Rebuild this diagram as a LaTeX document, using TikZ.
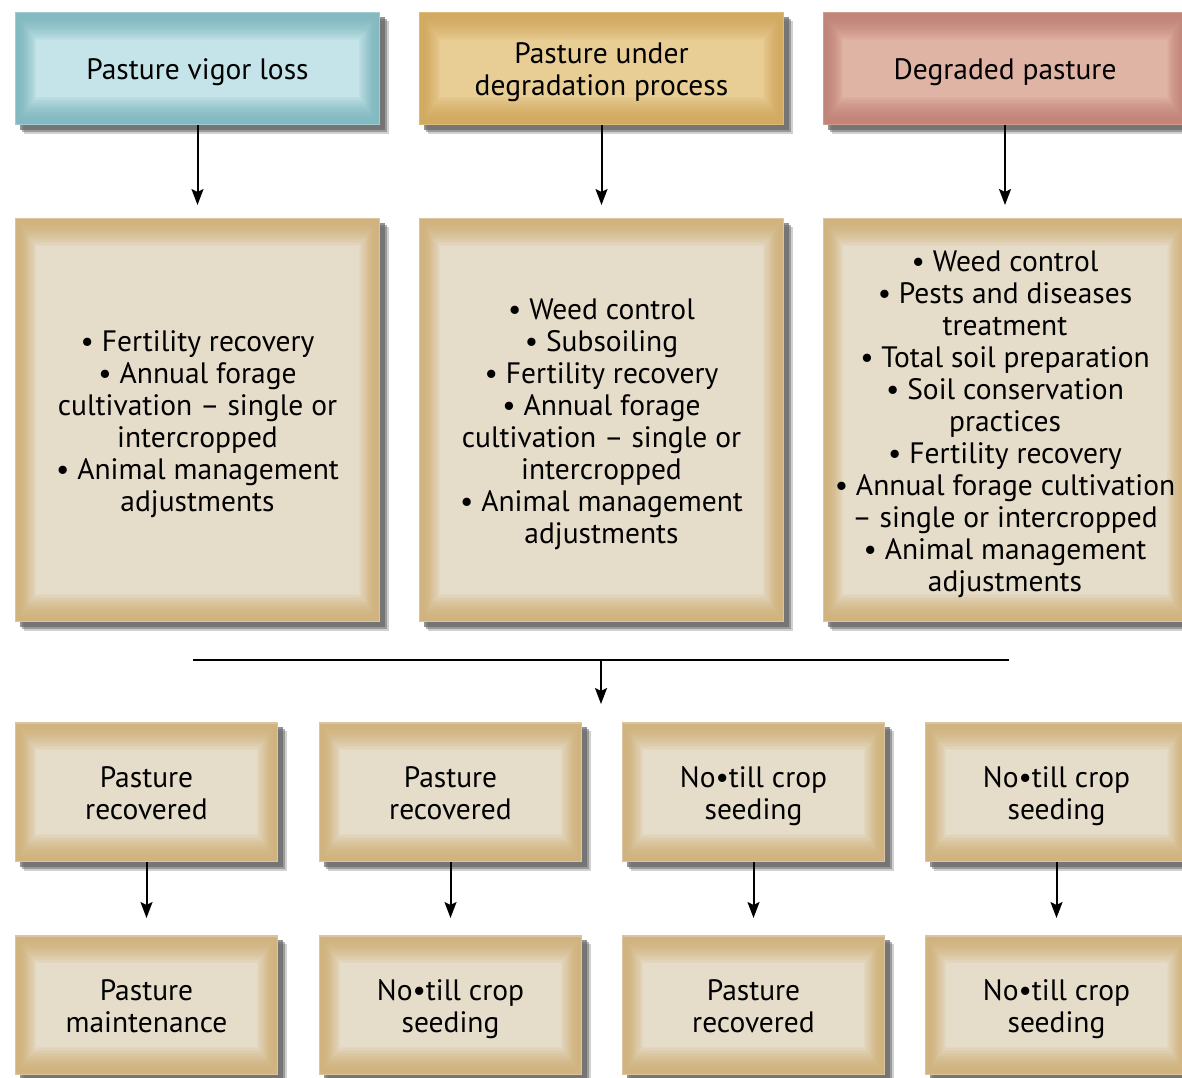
\documentclass[tikz,border=0pt]{standalone}
\usepackage{fontspec}
\setmainfont{PT Sans}
\usetikzlibrary{calc,shadows,arrows.meta}
\definecolor{tanD}{HTML}{D0B37E}
\definecolor{tanL}{HTML}{E5DCC9}
\definecolor{bluD}{HTML}{83B9C0}
\definecolor{bluL}{HTML}{C4E4E9}
\definecolor{goldD}{HTML}{D2AA62}
\definecolor{goldL}{HTML}{E8CD95}
\definecolor{pinkD}{HTML}{C2857A}
\definecolor{pinkL}{HTML}{E0B4A4}
\definecolor{shad}{HTML}{666666}
\tikzset{
  bev/.style 2 args={
    general shadow={shadow xshift=9pt,shadow yshift=-9pt,fill=shad,opacity=.3},
    general shadow={shadow xshift=7pt,shadow yshift=-7pt,fill=shad,opacity=.5},
    general shadow={shadow xshift=5pt,shadow yshift=-5pt,fill=shad,opacity=.7},
    fill=#1,
    path picture={
      \foreach \i in {0,...,19}{
        \pgfmathsetmacro\d{\i*1.1}
        \pgfmathsetmacro\x{max(\i-3,0)/16}
        \pgfmathtruncatemacro\p{\i==0 ? 45 : 100*(0.35*\x+0.65*\x*\x)}
        \fill[#2!\p!#1] ($(path picture bounding box.north west)+(\d*1pt,-\d*1.35pt)$)
          rectangle ($(path picture bounding box.south east)+(-\d*1pt,\d*1.35pt)$);
      }
    },
    inner sep=0pt, outer sep=0pt
  },
  txt/.style={inner sep=0pt, align=center, font=\fontsize{29.5}{32}\selectfont},
  topbox/.style={minimum width=365pt,minimum height=113pt},
  midbox/.style={bev={tanD}{tanL},minimum width=365pt,minimum height=404pt},
  lowbox/.style={bev={tanD}{tanL},minimum width=263pt,minimum height=140pt},
  arr/.style={line width=2pt,-{Stealth[length=16pt,width=12pt,inset=3pt]}},
  plain/.style={line width=2pt}
}
% #1 name, #2 box style, #3 position, #4 text
\newcommand\bevnode[4]{%
  \node[#2] (#1) at (#3) {};
  \node[txt] (#1-text) at ([yshift=-4pt]#1.center) {\vphantom{l}#4\vphantom{g}};
}
\begin{document}
\begin{tikzpicture}[x=1pt,y=-1pt]
\useasboundingbox[fill=white] (0,0) rectangle (1182,1077);
% top row
\bevnode{t1}{topbox,bev={bluD}{bluL}}{197.5,68.5}{Pasture vigor loss}
\bevnode{t2}{topbox,bev={goldD}{goldL}}{601.5,68.5}{Pasture under\\degradation process}
\bevnode{t3}{topbox,bev={pinkD}{pinkL}}{1005,68.5}{Degraded pasture}
% middle row
\bevnode{m1}{midbox}{197.5,420}{• Fertility recovery\\• Annual forage\\cultivation – single or\\intercropped\\• Animal management\\adjustments}
\bevnode{m2}{midbox}{601.5,420}{• Weed control\\• Subsoiling\\• Fertility recovery\\• Annual forage\\cultivation – single or\\intercropped\\• Animal management\\adjustments}
\bevnode{m3}{midbox}{1005,420}{• Weed control\\• Pests and diseases\\treatment\\• Total soil preparation\\• Soil conservation\\practices\\• Fertility recovery\\• Annual forage cultivation\\– single or intercropped\\• Animal management\\adjustments}
% bottom rows
\bevnode{a1}{lowbox}{146.5,792}{Pasture\\recovered}
\bevnode{a2}{lowbox}{450.5,792}{Pasture\\recovered}
\bevnode{a3}{lowbox}{753.5,792}{No•till crop\\seeding}
\bevnode{a4}{lowbox}{1056.5,792}{No•till crop\\seeding}
\bevnode{b1}{lowbox}{146.5,1005}{Pasture\\maintenance}
\bevnode{b2}{lowbox}{450.5,1005}{No•till crop\\seeding}
\bevnode{b3}{lowbox}{753.5,1005}{Pasture\\recovered}
\bevnode{b4}{lowbox}{1056.5,1005}{No•till crop\\seeding}
% connectors
\foreach \i in {1,2,3}{\draw[arr,shorten >=13pt] (t\i) -- (m\i);}
\foreach \i in {1,...,4}{\draw[arr,shorten >=17pt] (a\i) -- (b\i);}
\coordinate (hl) at (193,660);
\coordinate (hr) at (1009,660);
\coordinate (hm) at (601,660);
\coordinate (he) at (601,704);
\draw[plain] (hl) -- (hr);
\draw[arr] (hm) -- (he);
\end{tikzpicture}
\end{document}
